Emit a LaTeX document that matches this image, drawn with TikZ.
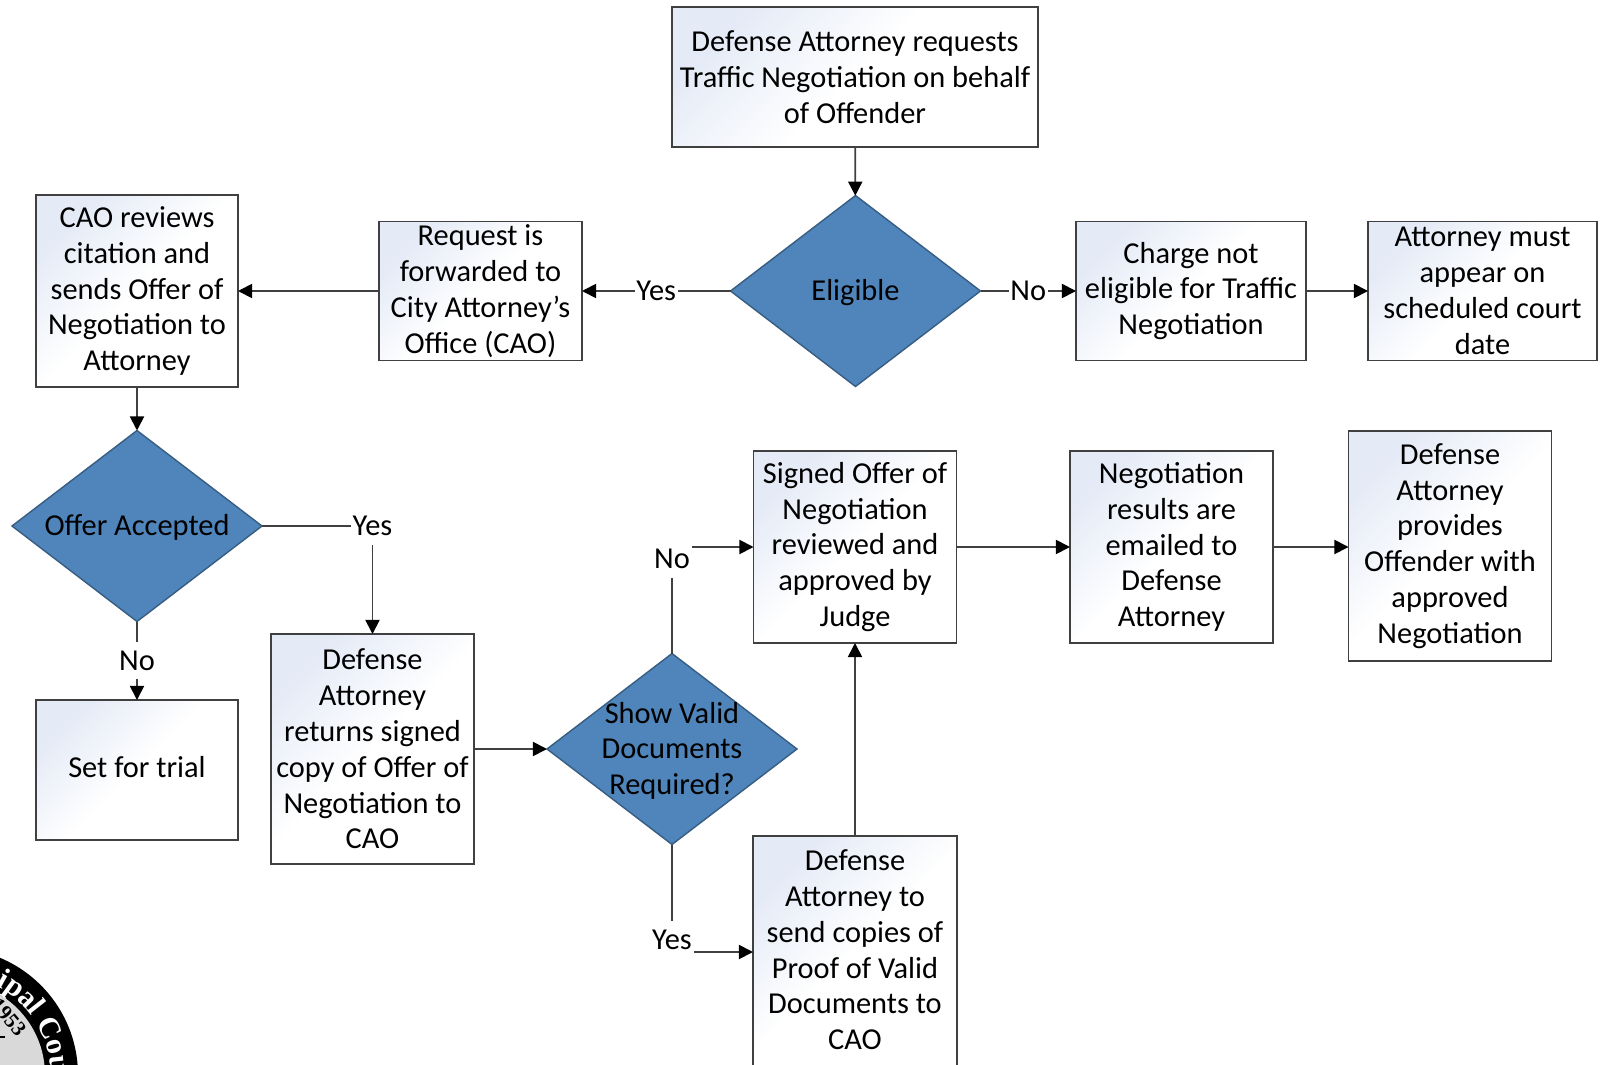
\documentclass[tikz,border=0pt]{standalone}
\usepackage{fontspec}
\setmainfont{Carlito}
\newfontfamily\sealfont{Liberation Serif}[BoldFont={Liberation Serif Bold}]
\usepackage{tikz}
\usetikzlibrary{arrows.meta,shapes.geometric,decorations.text}

\definecolor{boxblue}{HTML}{E4EAF6}
\definecolor{diamondblue}{HTML}{4F85BA}
\definecolor{lineshade}{HTML}{404040}
\definecolor{sealgrey}{HTML}{D9D9D9}

\tikzset{
  stepbox/.style={draw=lineshade,line width=0.45pt,top color=boxblue,bottom color=white,middle color=white,shading angle=45,
    align=center,inner sep=0pt,outer sep=0pt,font=\fontsize{8.65}{10.2}\selectfont},
  decision/.style={diamond,draw=diamondblue!70!black,line width=0.4pt,fill=diamondblue,inner sep=0pt,outer sep=0pt,
    minimum width=2.5cm,minimum height=1.91cm},
  dectext/.style={align=center,inner sep=0pt,yshift=-0.5pt,font=\fontsize{8.65}{10.2}\selectfont},
  link/.style={draw=lineshade,line width=0.5pt,-{Triangle[length=4pt,width=4pt,color=black]}},
  linklabel/.style={fill=white,inner xsep=0.5pt,inner ysep=2.5pt,font=\fontsize{8.65}{10.2}\selectfont},
}

\begin{document}
\begin{tikzpicture}
  \useasboundingbox (0,0.01) rectangle (16.02,10.65);
  \clip (0,0.01) rectangle (16.02,10.65);

  % seal in the corner
  \coordinate (sealc) at (-0.49,-0.10);
  \fill[black] (sealc) circle (1.27);
  \fill[sealgrey] (sealc) circle (0.94);
  \path[decorate,decoration={text along path,text={|\color{white}\sealfont\bfseries\fontsize{8.5}{8.5}\selectfont|Municipal Court}}]
    ([shift={(111:1.0)}]sealc) arc[start angle=111,end angle=-40,radius=1.0];
  \node[rotate=-50,inner sep=0pt,font=\sealfont\bfseries\fontsize{6}{6}\selectfont] (sealyear) at (0.085,0.48) {1953};
  \fill[black] (0,0.27) rectangle (0.05,0.29);

  % top row
  \node[stepbox,minimum width=3.66cm,minimum height=1.40cm] (request) at (8.55,9.88)
    {Defense Attorney requests\\Traffic Negotiation on behalf\\of Offender};
  \node[decision,label={[dectext]center:Eligible}] (eligible) at (8.555,7.74) {};
  \node[stepbox,minimum width=2.03cm,minimum height=1.39cm] (forward) at (4.805,7.74)
    {Request is\\forwarded to\\City Attorney’s\\Office (CAO)};
  \node[stepbox,minimum width=2.02cm,minimum height=1.92cm] (review) at (1.37,7.74)
    {CAO reviews\\citation and\\sends Offer of\\Negotiation to\\Attorney};
  \node[stepbox,minimum width=2.30cm,minimum height=1.39cm] (charge) at (11.91,7.74)
    {Charge not\\eligible for Traffic\\Negotiation};
  \node[stepbox,minimum width=2.29cm,minimum height=1.39cm] (appear) at (14.825,7.74)
    {Attorney must\\appear on\\scheduled court\\date};

  % left side
  \node[decision,label={[dectext]center:Offer Accepted}] (offer) at (1.37,5.39) {};
  \node[stepbox,minimum width=2.02cm,minimum height=1.40cm,text depth=1.7pt] (trial) at (1.37,2.95) {Set for trial};
  \node[stepbox,minimum width=2.03cm,minimum height=2.30cm] (returns) at (3.725,3.16)
    {Defense\\Attorney\\returns signed\\copy of Offer of\\Negotiation to\\CAO};
  \node[decision,label={[dectext]center:Show Valid\\Documents\\Required?}] (valid) at (6.72,3.16) {};

  % lower right
  \node[stepbox,minimum width=2.03cm,minimum height=1.92cm] (signed) at (8.55,5.18)
    {Signed Offer of\\Negotiation\\reviewed and\\approved by\\Judge};
  \node[stepbox,minimum width=2.03cm,minimum height=1.92cm] (results) at (11.715,5.18)
    {Negotiation\\results are\\emailed to\\Defense\\Attorney};
  \node[stepbox,minimum width=2.03cm,minimum height=2.30cm] (provides) at (14.50,5.19)
    {Defense\\Attorney\\provides\\Offender with\\approved\\Negotiation};
  \node[stepbox,minimum width=2.04cm,minimum height=2.32cm,text depth=1.3pt] (send) at (8.55,1.13)
    {Defense\\Attorney to\\send copies of\\Proof of Valid\\Documents to\\CAO};

  \draw[link] (request) -- (eligible);
  \draw[link] (eligible) -- node[linklabel] (eligyes) {Yes} (forward);
  \draw[link] (forward) -- (review);
  \draw[link] (eligible) -- node[linklabel] (eligno) {No} (charge);
  \draw[link] (charge) -- (appear);
  \draw[link] (review) -- (offer);
  \draw[link] (offer.east) -| node[linklabel,pos=0.5] (offeryes) {Yes} (returns.north);
  \draw[link] (offer) -- node[linklabel] (offerno) {No} (trial);
  \draw[link] (returns) -- (valid);
  \draw[link] (valid.north) |- node[linklabel,pos=0.444] (validno) {No} (signed.west);
  \draw[link] (valid.south) |- node[linklabel,pos=0.443] (validyes) {Yes} (send.west);
  \draw[link] (send) -- (signed);
  \draw[link] (signed) -- (results);
  \draw[link] (results.east) -- (provides.west |- results.east);
\end{tikzpicture}
\end{document}
